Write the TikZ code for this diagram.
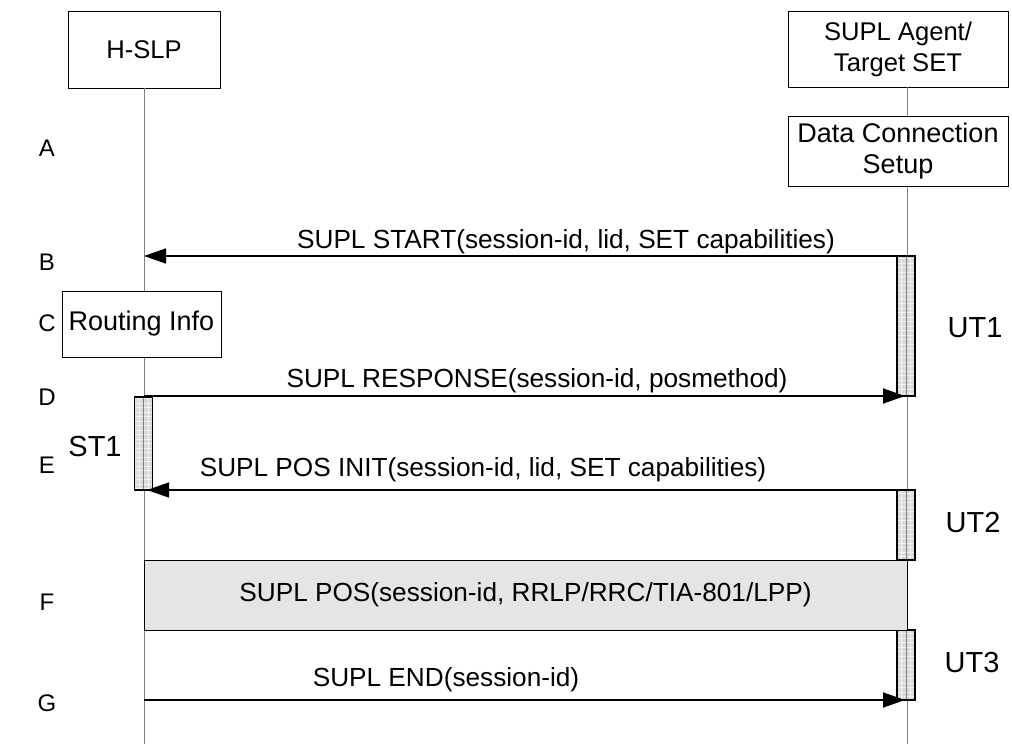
\documentclass[tikz,border=0pt]{standalone}
\usepackage{fontspec}
\setmainfont{Liberation Sans}
\usetikzlibrary{arrows.meta,positioning}

\begin{document}
\begin{tikzpicture}[x=1pt, y=-1pt,
  entity/.style={rectangle, draw, line width=0.8pt, fill=white, align=center, inner sep=0pt, font=\fontsize{25.6}{31}\selectfont},
  action/.style={rectangle, draw, line width=0.8pt, fill=white, align=center, inner sep=0pt, font=\fontsize{27}{31}\selectfont},
  timer/.style={rectangle, draw, line width=1.2pt, fill=gray!30, minimum width=18pt, inner sep=0pt,
    path picture={\draw[gray!10, line width=0.4pt, step=4.5pt] (path picture bounding box.south west) grid (path picture bounding box.north east);
      \draw[gray, line width=0.8pt] (path picture bounding box.north) -- (path picture bounding box.south);}},
  lifeline/.style={draw=gray, line width=0.9pt},
  msg/.style={-{Triangle[length=22pt, width=15pt]}, line width=1.5pt},
  msglbl/.style={font=\fontsize{26.2}{30}\selectfont, inner sep=0pt},
  steplbl/.style={font=\fontsize{24}{28}\selectfont, inner sep=0pt},
  timerlbl/.style={font=\fontsize{29}{33}\selectfont, inner sep=0pt}
]
\useasboundingbox (0,0) rectangle (1012,744);

% Entities
\node[entity, minimum width=152pt, minimum height=77pt] (hslp) at (144,49.5) {H-SLP};
\node[entity, minimum width=220pt, minimum height=76pt] (agent) at (898,49) {SUPL Agent/\\Target SET};
\coordinate (hslpEnd) at (144,744);
\coordinate (agentTop) at (907,87);
\coordinate (agentEnd) at (907,744);

% Lifelines
\draw[lifeline] (hslp.south) -- (hslpEnd);
\draw[lifeline] (agentTop) -- (agentEnd);

% Steps
\node[steplbl] (stA) at (47,148) {A};
\node[steplbl] (stB) at (47,262) {B};
\node[steplbl] (stC) at (47,323) {C};
\node[steplbl] (stD) at (47,397) {D};
\node[steplbl] (stE) at (47,465) {E};
\node[steplbl] (stF) at (47,602) {F};
\node[steplbl] (stG) at (47,703) {G};

% Local actions
\node[action, minimum width=220pt, minimum height=70pt] (dcs) at (898,151) {Data Connection\\Setup};
\node[action, minimum width=159pt, minimum height=66pt] (rinfo) at (141.5,324) {Routing Info};

% Timers
\node[timer, minimum height=140pt] (ut1) at (906,326) {};
\node[timer, minimum height=93pt] (st1) at (143.5,443.5) {};
\node[timer, minimum height=70pt] (ut2) at (906,525) {};
\node[timer, minimum height=70pt] (ut3) at (906,665) {};
\node[timerlbl] (ut1lbl) at (975,328) {UT1};
\node[timerlbl] (st1lbl) at (95,447) {ST1};
\node[timerlbl] (ut2lbl) at (973,523) {UT2};
\node[timerlbl] (ut3lbl) at (972,663) {UT3};

% Message end points
\coordinate (aB) at (907,256);
\coordinate (hB) at (144,256);
\coordinate (hD) at (144,396);
\coordinate (aD) at (905,396);
\coordinate (aE) at (907,490);
\coordinate (hE) at (147,490);
\coordinate (hG) at (144,700);
\coordinate (aG) at (905,700);

% Messages
\draw[msg] (aB) -- (hB);
\node[msglbl] (lblB) at (566,242) {SUPL START(session-id, lid, SET capabilities)};
\draw[msg] (hD) -- (aD);
\node[msglbl] (lblD) at (537,381) {SUPL RESPONSE(session-id, posmethod)};
\draw[msg] (aE) -- (hE);
\node[msglbl] (lblE) at (483,470) {SUPL POS INIT(session-id, lid, SET capabilities)};
\node[rectangle, draw, line width=0.8pt, fill=gray!20, minimum width=763pt, minimum height=70pt, inner sep=0pt,
  font=\fontsize{26.2}{30}\selectfont] (pos) at (525.5,595) {SUPL POS(session-id, RRLP/RRC/TIA-801/LPP)};
\draw[msg] (hG) -- (aG);
\node[msglbl] (lblG) at (446,680) {SUPL END(session-id)};

\end{tikzpicture}
\end{document}
